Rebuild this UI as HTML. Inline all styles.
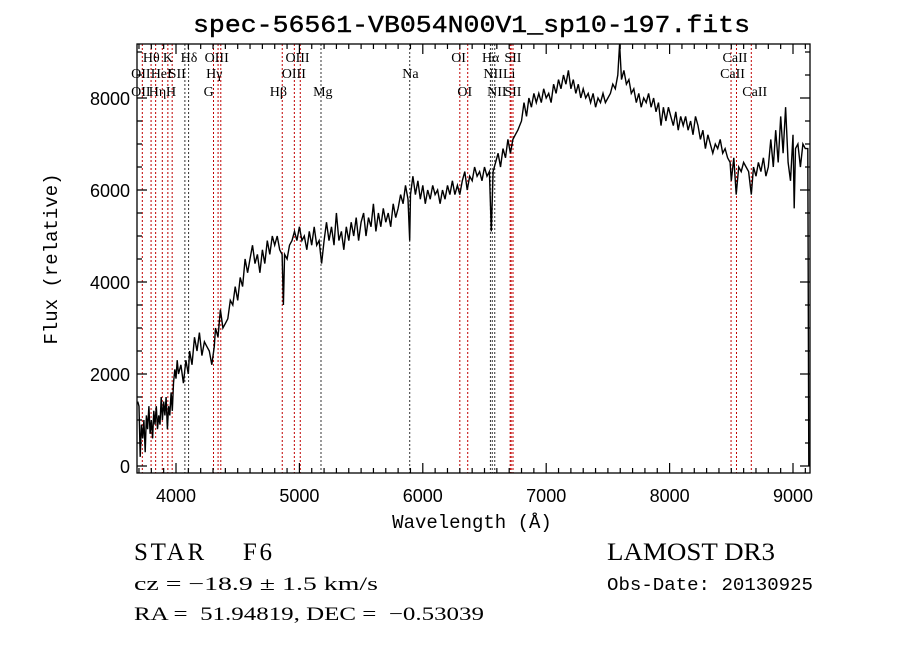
<!DOCTYPE html>
<html><head><meta charset="utf-8">
<style>
html,body{margin:0;padding:0;background:#fff;}
svg{display:block;}
text{fill:#000;white-space:pre;}
.mono{font-family:"Liberation Mono",monospace;}
.sans{font-family:"Liberation Sans",sans-serif;}
.serif{font-family:"Liberation Serif",serif;}
</style></head>
<body>
<svg id="chart" width="900" height="649" viewBox="0 0 900 649" xmlns="http://www.w3.org/2000/svg" xml:space="preserve">
<rect width="900" height="649" fill="#fff"/>
<text class="mono" x="193" y="32" font-size="24" textLength="557" lengthAdjust="spacingAndGlyphs" stroke="#000" stroke-width="0.4">spec-56561-VB054N00V1_sp10-197.fits</text>
<g id="lines"></g>
<g id="labels" class="serif" font-size="14"></g>
<g id="series"></g>
<g id="axes"></g>
<text class="mono" x="472" y="528" font-size="19" text-anchor="middle">Wavelength (Å)</text>
<text class="mono" font-size="19" text-anchor="middle" transform="translate(57,259) rotate(-90)">Flux (relative)</text>
<text class="serif" x="134" y="560" font-size="25" textLength="138" lengthAdjust="spacing">STAR    F6</text>
<text class="serif" x="607" y="560" font-size="25" textLength="168" lengthAdjust="spacingAndGlyphs">LAMOST DR3</text>
<text class="serif" x="134" y="590" font-size="19" textLength="244" lengthAdjust="spacingAndGlyphs">cz = −18.9 ± 1.5 km/s</text>
<text class="mono" x="607" y="590" font-size="18" textLength="206" lengthAdjust="spacingAndGlyphs">Obs-Date: 20130925</text>
<text class="serif" x="134" y="620" font-size="19" textLength="350" lengthAdjust="spacingAndGlyphs">RA =  51.94819, DEC =  −0.53039</text>
</svg>
<script>
const wave = [3690,3700,3710,3720,3730,3740,3750,3760,3770,3780,3790,3800,3810,3820,3830,3840,3850,3860,3870,3880,3890,3900,3910,3920,3930,3940,3950,3960,3970,3980,3990,4000,4010,4020,4040,4060,4080,4100,4110,4130,4150,4170,4190,4210,4230,4250,4270,4290,4310,4320,4340,4360,4380,4400,4420,4440,4460,4480,4500,4520,4540,4560,4580,4600,4620,4640,4660,4680,4700,4720,4740,4760,4780,4800,4820,4840,4860,4870,4880,4900,4920,4940,4960,4980,5000,5020,5040,5060,5080,5100,5120,5140,5160,5180,5200,5220,5240,5260,5280,5300,5320,5340,5360,5380,5400,5420,5440,5460,5480,5500,5520,5540,5560,5580,5600,5620,5640,5660,5680,5700,5720,5740,5760,5780,5800,5820,5840,5860,5880,5894,5900,5920,5940,5960,5980,6000,6020,6040,6060,6080,6100,6120,6140,6160,6180,6200,6220,6240,6260,6280,6300,6320,6340,6360,6380,6400,6420,6440,6460,6480,6500,6520,6540,6555,6570,6590,6610,6630,6650,6670,6690,6710,6730,6750,6770,6800,6820,6840,6860,6880,6900,6920,6940,6960,6980,7000,7020,7040,7060,7080,7100,7120,7140,7160,7180,7200,7220,7240,7260,7280,7300,7320,7340,7360,7380,7400,7420,7440,7460,7480,7500,7520,7540,7560,7580,7595,7610,7630,7650,7670,7690,7710,7730,7750,7770,7790,7810,7830,7850,7870,7890,7910,7930,7950,7970,7990,8010,8030,8050,8070,8090,8110,8130,8150,8170,8190,8210,8230,8250,8270,8290,8310,8330,8350,8370,8390,8410,8430,8450,8470,8490,8500,8520,8540,8560,8580,8600,8620,8640,8662,8680,8700,8720,8740,8760,8780,8800,8820,8840,8860,8880,8900,8920,8940,8960,8980,9000,9010,9020,9040,9060,9080,9100,9120,9125,9128];
const flux = [1400,1300,200,900,600,1000,300,1100,800,1300,700,1000,600,1200,900,1300,800,1100,900,1500,1000,1400,1100,1500,800,1300,1100,1600,1200,1800,2100,1900,2300,2000,2200,1800,2300,2000,2500,2200,2800,2500,2900,2400,2700,2600,2500,2200,2600,3000,2800,3400,3000,3100,3200,3600,3500,3900,3600,4100,3900,4500,4200,4500,4800,4400,4600,4200,4700,4400,4900,4600,5000,4800,5000,4700,4600,3500,4600,4500,4800,4900,5100,4900,5200,4900,5000,4700,5100,4800,5200,4800,4900,4400,4900,5300,4900,5200,4800,5500,4900,5100,4700,5200,4900,5300,5000,5400,4900,5300,5500,5000,5400,5200,5700,5100,5500,5200,5600,5300,5500,5200,5700,5400,5600,5900,5700,6100,5800,4900,5900,6300,5900,6200,5800,6100,5700,6000,5800,6100,5900,6000,5700,6000,5800,6100,5900,6200,5900,6100,5900,6200,6400,6000,6300,6200,6500,6300,6400,6200,6500,6300,6400,5100,6400,6600,6800,6500,6900,6700,7100,6800,7100,7200,7300,7500,7900,7600,8000,7800,8100,7900,8100,7900,8200,8000,8100,7900,8300,8100,8400,8200,8500,8300,8600,8200,8400,8100,8300,8000,8200,8000,8100,7900,8100,7800,8000,7900,8100,7900,8000,8100,8300,8200,8500,9200,8400,8600,8300,8400,8100,8200,7900,8100,7800,8000,7900,8100,7800,8000,7700,7900,7400,7800,7500,7800,7600,7400,7700,7300,7600,7400,7600,7300,7500,7200,7600,7400,7100,7300,6900,7200,7000,6800,7000,6900,7100,6800,6900,6700,6600,6200,6700,5900,6500,6400,6600,6500,6400,5900,6500,6300,6600,6400,6700,6300,6500,7100,6500,7300,6600,7600,6800,7800,6600,6200,7200,5600,6900,7000,6500,7000,6900,6900,2700,0];
const lineWaves = [3727,3798,3835,3889,3934,3969,4072,4102,4304,4341,4363,4861,4959,5007,5175,5894,6300,6364,6548,6563,6583,6708,6716,6731,8498,8542,8662];
const lineRed = [1,1,1,1,1,1,0,0,1,1,1,1,1,1,0,0,1,1,0,0,0,1,1,1,1,1,1];
const labelText = ["Hθ","K","Hδ","OIII","OIII","OI","Hα","SII","CaII","OII","HeI","SII","Hγ","OIII","Na","NII","Li","CaII","OII","Hη","H","G","Hβ","Mg","OI","NII","SII","CaII"];
const labelWave = [3800,3935,4105,4330,4985,6290,6550,6730,8530,3715,3880,4010,4310,4955,5900,6570,6700,8510,3715,3850,3960,4265,4830,5190,6340,6600,6730,8690];
const labelRow = [0,0,0,0,0,0,0,0,0,1,1,1,1,1,1,1,1,1,2,2,2,2,2,2,2,2,2,2];
const xTicks = [4000,5000,6000,7000,8000,9000];
const yTicks = [0,2000,4000,6000,8000];

const L=137,R=810,T=44,B=473;
const X = w => 176 + (w-4000)*0.1234;
const Y = f => 466 - f*0.046;
const NS="http://www.w3.org/2000/svg";
function mk(tag, parent){const e=document.createElementNS(NS,tag);parent.appendChild(e);return e;}

const gl=document.getElementById('lines');
lineWaves.forEach((w,i)=>{
  const l=mk('line',gl);
  
  
  l.setAttribute('x1',X(w));l.setAttribute('x2',X(w));
  l.setAttribute('y1',T);l.setAttribute('y2',B);
  l.setAttribute('stroke',lineRed[i]?'#c00000':'#333');
  l.setAttribute('stroke-width','1');
  l.setAttribute('stroke-dasharray','2,2');
});
const glb=document.getElementById('labels');
const rowY=[62,78,96];
labelText.forEach((t,i)=>{
  const e=mk('text',glb);
  
  
  e.setAttribute('x',X(labelWave[i]));
  e.setAttribute('y',rowY[labelRow[i]]);
  e.setAttribute('text-anchor','middle');
  e.textContent=t;
});
const gs=document.getElementById('series');
const p=mk('polyline',gs);


p.setAttribute('points',wave.map((w,i)=>X(w).toFixed(1)+','+Math.max(T,Math.min(B,Y(flux[i]))).toFixed(1)).join(' '));
p.setAttribute('fill','none');p.setAttribute('stroke','#000');p.setAttribute('stroke-width','1.4');

const ga=document.getElementById('axes');
const box=mk('rect',ga);


box.setAttribute('x',L);box.setAttribute('y',T);box.setAttribute('width',R-L);box.setAttribute('height',B-T);
box.setAttribute('fill','none');box.setAttribute('stroke','#000');box.setAttribute('stroke-width','1.3');
let d='';
for(let w=3700;w<=9100;w+=100){const x=X(w);const len=(w%1000===0)?10:5;d+=`M${x},${B}v${-len}M${x},${T}v${len}`;}
for(let f=0;f<=9000;f+=500){const y=Y(f);const len=(f%2000===0)?10:5;d+=`M${L},${y}h${len}M${R},${y}h${-len}`;}
const tk=mk('path',ga);


tk.setAttribute('d',d);tk.setAttribute('stroke','#000');tk.setAttribute('stroke-width','1.2');
xTicks.forEach(w=>{
  const e=mk('text',ga);
  
  
  e.setAttribute('x',X(w));e.setAttribute('y',502);e.setAttribute('text-anchor','middle');
  e.setAttribute('class','sans');e.setAttribute('font-size','18');
  e.textContent=w;
});
yTicks.forEach(f=>{
  const e=mk('text',ga);
  
  
  e.setAttribute('x',130);e.setAttribute('y',Y(f)+7);e.setAttribute('text-anchor','end');
  e.setAttribute('class','sans');e.setAttribute('font-size','18');
  e.textContent=f;
});
</script>
</body></html>
